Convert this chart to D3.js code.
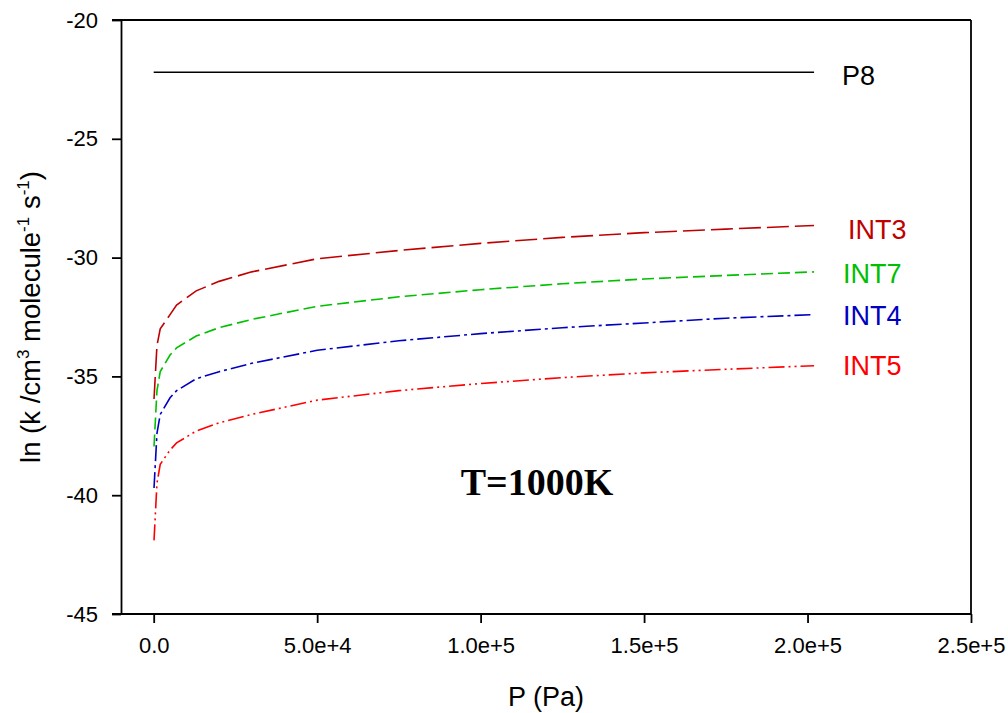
<!DOCTYPE html>
<html><head><meta charset="utf-8">
<script src="https://cdn.jsdelivr.net/npm/d3@7"></script>
<style>body{margin:0;background:#fff}svg{display:block}</style>
</head><body>
<svg id="c" width="1008" height="713"></svg>
<script>
const pressure = [100, 1000, 2000, 5000, 7000, 13000, 20000, 30000, 50000, 75000, 100000, 125000, 150000, 175000, 202000];
const int3 = [-35.95, -33.7, -33.0, -32.4, -32.0, -31.4, -31.0, -30.6, -30.05, -29.7, -29.4, -29.15, -28.95, -28.8, -28.65];
const int7 = [-37.95, -35.6, -34.8, -34.1, -33.8, -33.3, -32.95, -32.6, -32.05, -31.65, -31.35, -31.1, -30.9, -30.75, -30.6];
const int4 = [-39.7, -37.4, -36.6, -35.9, -35.6, -35.1, -34.8, -34.45, -33.9, -33.5, -33.2, -32.95, -32.75, -32.55, -32.4];
const int5 = [-41.9, -39.5, -38.7, -38.1, -37.8, -37.3, -36.95, -36.6, -36.0, -35.6, -35.3, -35.05, -34.85, -34.7, -34.55];
const p8Pressure = [0, 202000];
const p8 = [-22.2, -22.2];
const xTicks = [0, 50000, 100000, 150000, 200000, 250000];
const yTicks = [-45, -40, -35, -30, -25, -20];
const seriesNames = ["P8", "INT3", "INT7", "INT4", "INT5"];

const SANS = "Arial, 'Liberation Sans', sans-serif";
const svg = d3.select("#c");
const x = d3.scaleLinear().domain([-10000, 250000]).range([121, 971]);
const y = d3.scaleLinear().domain([-45, -20]).range([614, 20]);

const series = [
  {name: "P8", xs: p8Pressure, ys: p8, color: "#000000", dash: null, lx: 842, ly: 85},
  {name: "INT3", xs: pressure, ys: int3, color: "#c00000", dash: "22,6", lx: 848, ly: 239},
  {name: "INT7", xs: pressure, ys: int7, color: "#00c000", dash: "12,5", lx: 843, ly: 283},
  {name: "INT4", xs: pressure, ys: int4, color: "#0000c0", dash: "16,4,3,4", lx: 843, ly: 325},
  {name: "INT5", xs: pressure, ys: int5, color: "#ff0000", dash: "16,4,2,4,2,4", lx: 843, ly: 375}
];

const line = d3.line().x(d => x(d[0])).y(d => y(d[1]));
series.forEach(s => {
  const pts = s.xs.map((v, i) => [v, s.ys[i]]);
  svg.append("path").attr("d", line(pts)).attr("fill", "none")
    .attr("stroke", s.color).attr("stroke-width", 1.6)
    .attr("stroke-dasharray", s.dash);
  svg.append("text").attr("x", s.lx).attr("y", s.ly).attr("fill", s.color)
    .attr("font-family", SANS).attr("font-size", 27).text(s.name);
});

svg.append("line").attr("x1", 112).attr("x2", 971).attr("y1", 20).attr("y2", 20).attr("stroke", "#000").attr("stroke-width", 1.8);
svg.append("line").attr("x1", 971).attr("x2", 971).attr("y1", 20).attr("y2", 614).attr("stroke", "#000").attr("stroke-width", 1.8);

const xAxis = svg.append("g").attr("transform", "translate(0,614)")
  .call(d3.axisBottom(x).tickValues(xTicks).tickSize(9).tickSizeOuter(0).tickPadding(14)
    .tickFormat(d => d === 0 ? "0.0" : d3.format(".1e")(d)));
const yAxis = svg.append("g").attr("transform", "translate(121,0)")
  .call(d3.axisLeft(y).tickValues(yTicks).tickSize(9).tickSizeOuter(0).tickPadding(14)
    .tickFormat(d => String(d)));
[xAxis, yAxis].forEach(g => {
  g.attr("font-family", SANS).attr("font-size", 22);
  g.select(".domain").attr("stroke-width", 1.8);
  g.selectAll(".tick line").attr("stroke-width", 1.8);
  g.selectAll("text").attr("fill", "#000");
});
xAxis.select(".domain").attr("d", "M112,0H971");

svg.append("text").attr("x", 546).attr("y", 706).attr("text-anchor", "middle")
  .attr("font-family", SANS).attr("font-size", 27).text("P (Pa)");

const yt = svg.append("text").attr("transform", "translate(40,317) rotate(-90)")
  .attr("text-anchor", "middle").attr("font-family", SANS).attr("font-size", 27.5);
yt.append("tspan").text("ln (k /cm");
yt.append("tspan").attr("font-size", 17).attr("dy", -11).text("3");
yt.append("tspan").attr("dy", 11).text(" molecule");
yt.append("tspan").attr("font-size", 17).attr("dy", -11).text("-1");
yt.append("tspan").attr("dy", 11).text(" s");
yt.append("tspan").attr("font-size", 17).attr("dy", -11).text("-1");
yt.append("tspan").attr("dy", 11).text(")");

svg.append("text").attr("x", 537).attr("y", 495).attr("text-anchor", "middle")
  .attr("font-family", "'Liberation Serif', 'Times New Roman', serif").attr("font-weight", "bold")
  .attr("font-size", 38).text("T=1000K");
</script>
</body></html>
